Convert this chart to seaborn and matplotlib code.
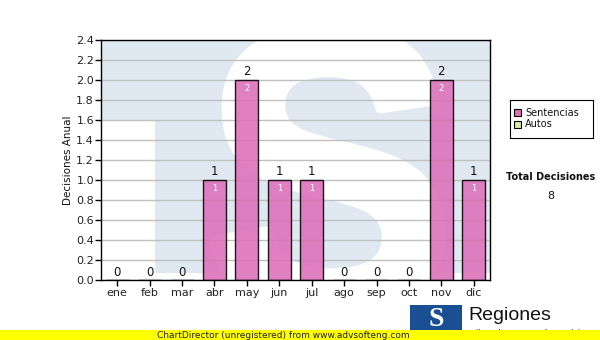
import numpy as np
import pandas as pd
import matplotlib
matplotlib.use("Agg")
import matplotlib.pyplot as plt
import seaborn as sns
from matplotlib.patches import Rectangle, PathPatch
from matplotlib.textpath import TextPath
from matplotlib.font_manager import FontProperties
from matplotlib.transforms import Affine2D

meses = ["ene", "feb", "mar", "abr", "may", "jun", "jul", "ago", "sep", "oct", "nov", "dic"]
sentencias = [0, 0, 0, 1, 2, 1, 1, 0, 0, 0, 2, 1]
autos = [0, 0, 0, 0, 0, 0, 0, 0, 0, 0, 0, 0]
yticks = [0.0, 0.2, 0.4, 0.6, 0.8, 1.0, 1.2, 1.4, 1.6, 1.8, 2.0, 2.2, 2.4]
total = sum(sentencias) + sum(autos)

sns.set_theme(style="white")
plt.rcParams['font.family'] = ['DejaVu Sans']

fig = plt.figure(figsize=(6.0, 3.4), dpi=100)
ax = fig.add_axes([101/600, 1-280/340, 389/600, 240/340])

df = pd.DataFrame({"mes": meses, "Sentencias": sentencias, "Autos": autos})

# watermark background
ax.set_facecolor("white")
blue = "#e0e9f2"
ax.add_patch(Rectangle((-0.5, 0.0), 12, 2.4, facecolor=blue, edgecolor="none", zorder=0))
ax.add_patch(Rectangle((-0.5, 0.0), 1.67, 1.6, facecolor="white", edgecolor="none", zorder=0.1))
ax.add_patch(Rectangle((-0.5, 0.0), 12, 0.07, facecolor="white", edgecolor="none", zorder=0.1))
tp = TextPath((0, 0), "S", size=1, prop=FontProperties(family="Liberation Sans", weight="bold"))
ext = tp.get_extents()
x0, x1 = (215-101)/32.42-0.5, (440-101)/32.42-0.5
y0, y1 = (280-318)/100, (280-30)/100
tr = (Affine2D().translate(-ext.x0, -ext.y0)
      .scale((x1-x0)/ext.width, (y1-y0)/ext.height)
      .translate(x0, y0))
ax.add_patch(PathPatch(tr.transform_path(tp), facecolor="white", edgecolor="white",
                       linewidth=8, joinstyle="round", zorder=0.2))

sns.barplot(data=df, x="mes", y="Sentencias", order=meses, color="#dc6fb8",
            width=0.71, edgecolor="black", linewidth=1.0, alpha=0.88,
            saturation=1, ax=ax, zorder=3)

ax.set_xlim(-0.5, 11.5)
ax.set_ylim(0, 2.4)
ax.set_yticks(yticks)
ax.set_yticklabels([f"{v:.1f}" for v in yticks], fontsize=8, color="#222222")
ax.tick_params(axis="x", labelsize=8, colors="#222222", length=4, width=1, direction="out", pad=2)
ax.tick_params(axis="y", length=4, width=1, direction="out", pad=1)
ax.tick_params(axis="both", which="both", bottom=True, left=True, color="black")
ax.yaxis.grid(True, color="#c0c0c0", linewidth=1.0, zorder=1)
ax.set_axisbelow(True)
for s in ax.spines.values():
    s.set_color("black")
    s.set_linewidth(1.0)
    s.set_zorder(5)
ax.set_xlabel("")
ax.set_ylabel("Decisiones Anual", fontsize=7.5, labelpad=2, color="#111111")

for i, (s, a) in enumerate(zip(sentencias, autos)):
    t = s + a
    ax.text(i, t + 0.015, f"{t}", ha="center", va="bottom", fontsize=8.5, color="#111111", zorder=6)
    if s > 0:
        ax.text(i, s - 0.04, f"{s}", ha="center", va="top", fontsize=6, color="white", zorder=6)

# legend
lax = fig.add_axes([510/600, 1-138/340, 83/600, 38/340])
lax.set_xlim(0, 83); lax.set_ylim(38, 0)
lax.set_xticks([]); lax.set_yticks([])
for s in lax.spines.values():
    s.set_color("black"); s.set_linewidth(0.8)
lax.set_facecolor("white")
lax.add_patch(Rectangle((4, 9.5), 7, 7, facecolor="#dc6fb8", edgecolor="black", linewidth=0.8))
lax.add_patch(Rectangle((4, 20.5), 7, 7, facecolor="#d4eba8", edgecolor="black", linewidth=0.8))
lax.text(15, 13, "Sentencias", fontsize=7, va="center", ha="left", color="#111111")
lax.text(15, 24, "Autos", fontsize=7, va="center", ha="left", color="#111111")

fig.text(551/600, 1-177/340, "Total Decisiones", fontsize=7, fontweight="bold", ha="center", va="center", color="#111111")
fig.text(551/600, 1-196/340, f"{total}", fontsize=8, ha="center", va="center", color="#111111")

# footer logo
fig.patches.append(Rectangle((410/600, 1-333/340), 52/600, 28/340, transform=fig.transFigure,
                             facecolor="#1b4f94", edgecolor="none", zorder=1))
fig.text(436/600, 1-319/340, "S", fontsize=20, fontweight="bold", family="Liberation Serif",
         color="white", ha="center", va="center", zorder=2)
fig.text(468/600, 1-316/340, "Regiones", fontsize=14, family="Liberation Sans",
         color="#111111", ha="left", va="center", zorder=2)
fig.text(468/600, 1-333/340, "Tribunal Supremo de Justicia", fontsize=6.5, family="Liberation Sans",
         color="#111111", ha="left", va="center", zorder=2)
fig.patches.append(Rectangle((0, 0), 1, 10/340, transform=fig.transFigure,
                             facecolor="#ffff00", edgecolor="none", zorder=3))
fig.text(410/600, 5/340, "ChartDirector (unregistered) from www.advsofteng.com", fontsize=6.5,
         ha="right", va="center", color="#222222", zorder=4)

fig.savefig("out.png", dpi=100)
